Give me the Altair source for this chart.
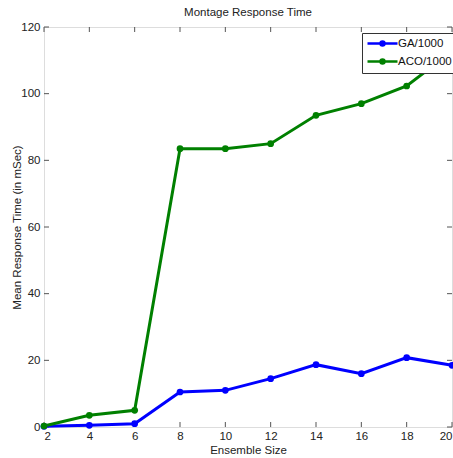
import altair as alt
import pandas as pd

ensemble = [2, 4, 6, 8, 10, 12, 14, 16, 18, 20]
ga = [0.2, 0.5, 1.0, 10.5, 11.0, 14.5, 18.7, 16.0, 20.8, 18.5]
aco = [0.3, 3.5, 5.0, 83.5, 83.5, 85.0, 93.5, 97.0, 102.3, 112.7]
series = ["GA/1000", "ACO/1000"]
colors = ["#0000FF", "#008000"]
y_ticks = [0, 20, 40, 60, 80, 100, 120]

rows = []
for s, vals in zip(series, [ga, aco]):
    for x, v in zip(ensemble, vals):
        rows.append({"size": x, "time": v, "series": s})
df = pd.DataFrame(rows)

W, H = 408, 400
FONT = "Liberation Sans Narrow, Liberation Sans"
FS = 11.5

xscale = alt.Scale(domain=[2, 20], nice=False, zero=False)
yscale = alt.Scale(domain=[0, 120], nice=False)

x_enc = alt.X("size:Q", scale=xscale,
              axis=alt.Axis(values=ensemble, title="Ensemble Size", domain=False, ticks=False,
                            grid=False, labelFontSize=FS, titleFontSize=FS, labelPadding=3,
                            titlePadding=3, labelFont=FONT, titleFont=FONT,
                            labelColor="#222", titleColor="#222", titleFontWeight="normal"))
y_enc = alt.Y("time:Q", scale=yscale,
              axis=alt.Axis(values=y_ticks, title="Mean Response Time (in mSec)", domain=False,
                            ticks=False, grid=False, labelFontSize=FS, titleFontSize=FS,
                            labelPadding=4, titleX=-22, titleY=H / 2, titleAngle=270,
                            titleAlign="center", titleBaseline="bottom",
                            labelFont=FONT, titleFont=FONT,
                            labelColor="#222", titleColor="#222", titleFontWeight="normal"))
color_scale = alt.Scale(domain=series, range=colors)

sym_path = "M-3,0L3,0M-0.4,0A0.4,0.4,0,1,1,0.4,0A0.4,0.4,0,1,1,-0.4,0Z"

base = alt.Chart(df)
lines = base.mark_line(strokeWidth=3).encode(
    x=x_enc, y=y_enc,
    color=alt.Color("series:N", scale=color_scale, sort=series,
                    legend=alt.Legend(title=None, orient="none", legendX=318, legendY=6,
                                      symbolType=sym_path, symbolSize=100,
                                      symbolStrokeWidth=2.5, labelFontSize=FS, labelFont=FONT,
                                      labelColor="#111", strokeColor="#333", fillColor="white",
                                      padding=4, rowPadding=3, labelOffset=9,
                                      symbolOffset=10)),
)
points = base.mark_point(filled=True, size=45, opacity=1).encode(
    x=x_enc, y=y_enc,
    color=alt.Color("series:N", scale=color_scale, sort=series, legend=None),
)

top_ticks = alt.Chart(pd.DataFrame({"size": ensemble})).mark_rule(color="#555").encode(
    x=alt.X("size:Q", scale=xscale), y=alt.value(0), y2=alt.value(5))
bot_ticks = alt.Chart(pd.DataFrame({"size": ensemble})).mark_rule(color="#555").encode(
    x=alt.X("size:Q", scale=xscale), y=alt.value(H - 5), y2=alt.value(H))
left_ticks = alt.Chart(pd.DataFrame({"time": y_ticks})).mark_rule(color="#555").encode(
    y=alt.Y("time:Q", scale=yscale), x=alt.value(0), x2=alt.value(5))
right_ticks = alt.Chart(pd.DataFrame({"time": y_ticks})).mark_rule(color="#555").encode(
    y=alt.Y("time:Q", scale=yscale), x=alt.value(W - 5), x2=alt.value(W))

chart = alt.layer(top_ticks, bot_ticks, left_ticks, right_ticks, lines, points).properties(
    width=W, height=H,
    title=alt.Title("Montage Response Time", fontSize=FS, fontWeight="normal", font=FONT,
                    color="#222", offset=3),
    autosize=alt.AutoSizeParams(type="none"),
    padding={"left": 44, "top": 27, "right": 1, "bottom": 31},
).configure_view(stroke="#555", strokeWidth=1).configure(background="white")

chart.save("out.html", embed_options={"renderer": "svg", "actions": False})
